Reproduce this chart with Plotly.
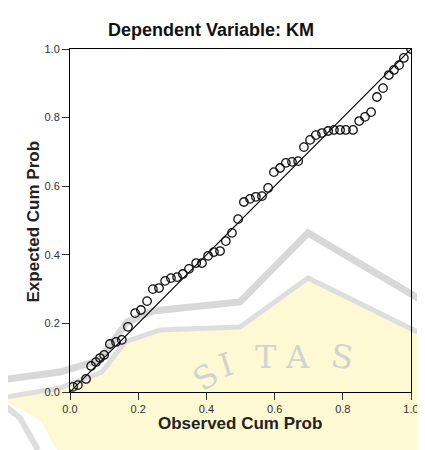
import plotly.graph_objects as go

observed_cum_prob = [0.009, 0.023, 0.047, 0.062, 0.076, 0.088, 0.100, 0.117, 0.135, 0.152,
                     0.170, 0.191, 0.208, 0.226, 0.243, 0.261, 0.279, 0.296, 0.314, 0.331,
                     0.349, 0.370, 0.387, 0.405, 0.422, 0.440, 0.457, 0.475, 0.493, 0.510,
                     0.528, 0.545, 0.563, 0.581, 0.598, 0.616, 0.633, 0.651, 0.669, 0.686,
                     0.704, 0.721, 0.739, 0.757, 0.774, 0.792, 0.809, 0.830, 0.848, 0.865,
                     0.883, 0.900, 0.918, 0.935, 0.950, 0.965, 0.979, 1.000]
expected_cum_prob = [0.015, 0.020, 0.038, 0.076, 0.087, 0.099, 0.108, 0.140, 0.146, 0.152,
                     0.190, 0.230, 0.239, 0.265, 0.300, 0.303, 0.324, 0.332, 0.335, 0.344,
                     0.359, 0.376, 0.376, 0.397, 0.408, 0.411, 0.440, 0.464, 0.504, 0.554,
                     0.563, 0.569, 0.571, 0.595, 0.641, 0.653, 0.668, 0.671, 0.673, 0.714,
                     0.735, 0.749, 0.755, 0.761, 0.764, 0.764, 0.764, 0.764, 0.790, 0.802,
                     0.816, 0.860, 0.886, 0.924, 0.939, 0.953, 0.974, 1.000]
ref_line = [0.0, 1.0]
tick_vals = [0.0, 0.2, 0.4, 0.6, 0.8, 1.0]
tick_text = ["0.0", "0.2", "0.4", "0.6", "0.8", "1.0"]
title_text = "Dependent Variable: KM"
x_title = "Observed Cum Prob"
y_title = "Expected Cum Prob"
watermark_letters = ["S", "I", "T", "A", "S"]

FONT = "Liberation Sans, Arial, sans-serif"
OFF = 8  # default page body margin in the browser
W, H = 425 - OFF, 450 - OFF
# plot area in page pixels: x 70..411, y 49..392
L, R, T, B = 70 - OFF, 425 - 411, 49 - OFF, 450 - 392
PW, PH = W - L - R, H - T - B


def px(x):  # page pixel -> paper fraction
    return (x - OFF - L) / PW


def py(y):
    return (H - B - (y - OFF)) / PH


def path(points, close=False):
    s = "M " + " L ".join(f"{px(a):.4f},{py(b):.4f}" for a, b in points)
    return s + (" Z" if close else "")


fig = go.Figure()
fig.add_trace(go.Scatter(x=ref_line, y=ref_line, mode="lines",
                         line=dict(color="black", width=1.2), hoverinfo="skip",
                         showlegend=False))
fig.add_trace(go.Scatter(x=observed_cum_prob, y=expected_cum_prob, mode="markers",
                         marker=dict(symbol="circle-open", size=8.5,
                                     color="#111111", line=dict(width=1.3)),
                         showlegend=False))

axis_common = dict(range=[0, 1], tickvals=tick_vals, ticktext=tick_text,
                   showgrid=False, zeroline=False, showline=True, linecolor="black",
                   linewidth=1, mirror=True, ticks="outside", ticklen=7,
                   tickcolor="#333333", tickwidth=1, automargin=False,
                   tickfont=dict(family=FONT, size=11, color="#333333"))

# faint background watermark (approximation of the logo behind the chart)
outer = [(0, 380), (60, 372), (100, 360), (127, 322), (153, 311), (240, 302),
         (308, 233), (430, 305)]
inner = [(0, 398), (60, 388), (102, 372), (125, 342), (160, 330), (240, 327),
         (308, 278), (430, 338)]
low_arc = [(0, 402), (20, 418), (38, 450)]
yellow = inner + [(430, 455), (60, 455), (40, 420)]
shapes = [
    dict(type="path", path=path(yellow, close=True), xref="paper", yref="paper",
         fillcolor="#fdf9d2", line=dict(width=0), layer="below"),
    dict(type="path", path=path(outer), xref="paper", yref="paper",
         line=dict(color="#d8d8d8", width=7), layer="below"),
    dict(type="path", path=path(inner), xref="paper", yref="paper",
         line=dict(color="#dedede", width=5), layer="below"),
    dict(type="path", path=path(low_arc), xref="paper", yref="paper",
         line=dict(color="#dedede", width=6), layer="below"),
]
letter_pos = [(183, 402, -35), (226, 388, -18), (266, 378, 0), (312, 378, 0), (358, 380, 8)]
annotations = [
    dict(text=ch, x=px(a), y=py(b), xref="paper", yref="paper", showarrow=False,
         textangle=ang, font=dict(family="DejaVu Serif, serif", size=32, color="#d2d2d2"))
    for ch, (a, b, ang) in zip(watermark_letters, letter_pos)
]
annotations += [
    dict(text=f"<b>{x_title}</b>", x=px(240), y=py(435), xref="paper", yref="paper",
         showarrow=False, font=dict(family=FONT, size=17, color="#222222")),
    dict(text=f"<b>{y_title}</b>", x=px(22), y=py(222), xref="paper", yref="paper",
         showarrow=False, textangle=-90, font=dict(family=FONT, size=17, color="#222222")),
    dict(text=f"<b>{title_text}</b>", x=px(211), y=py(18), xref="paper", yref="paper",
         showarrow=False, font=dict(family=FONT, size=18, color="#111111")),
]

fig.update_layout(
    width=W, height=H,
    margin=dict(l=L, r=R, t=T, b=B),
    paper_bgcolor="white", plot_bgcolor="rgba(0,0,0,0)",
    xaxis=axis_common,
    yaxis=axis_common,
    shapes=shapes,
    annotations=annotations,
)

fig.write_html("out.html")
